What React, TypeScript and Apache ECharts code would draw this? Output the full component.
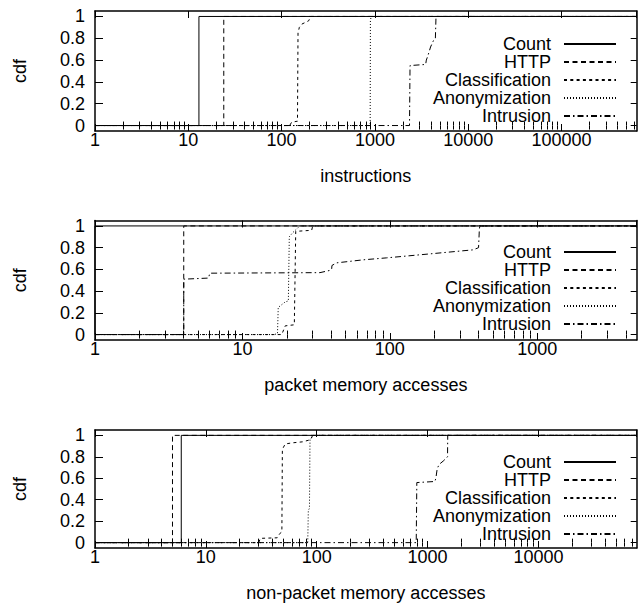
import { useEffect, useRef } from 'react';
import * as echarts from 'echarts';

// Series names, shared by the three panels
const seriesNames = ['Count', 'HTTP', 'Classification', 'Anonymization', 'Intrusion'];
const panelTitles = ['instructions', 'packet memory accesses', 'non-packet memory accesses'];
const xMaxes = [640000, 4730, 77000];
const yTickValues = [0, 0.2, 0.4, 0.6, 0.8, 1];

// Panel 1: instructions per packet (x, cdf)
const instrCount = [[1, 0], [13, 0], [13, 1], [640000, 1]];
const instrHttp = [[1, 0], [24, 0], [24, 1], [640000, 1]];
const instrClassification = [[1, 0], [122, 0], [128, 0.03], [148, 0.04], [150, 0.85], [155, 0.9], [165, 0.93], [195, 0.96], [205, 1], [640000, 1]];
const instrAnonymization = [[1, 0], [870, 0], [890, 0.02], [895, 0.96], [912, 1], [640000, 1]];
const instrIntrusion = [[1, 0], [2350, 0], [2380, 0.55], [3500, 0.56], [3560, 0.6], [3700, 0.64], [3950, 0.72], [4250, 0.78], [4450, 0.8], [4520, 1], [640000, 1]];

// Panel 2: packet memory accesses
const pktCount = [[1, 0], [1, 1], [4730, 1]];
const pktHttp = [[1, 0], [4, 0], [4, 1], [4730, 1]];
const pktClassification = [[1, 0], [18.5, 0], [19.5, 0.08], [22.5, 0.09], [23, 0.95], [29.5, 0.96], [30, 1], [4730, 1]];
const pktAnonymization = [[1, 0], [16.5, 0], [17.3, 0.01], [17.5, 0.25], [19.5, 0.3], [20.5, 0.31], [20.8, 0.9], [22, 0.94], [23.3, 0.97], [24.5, 1], [4730, 1]];
const pktIntrusion = [[1, 0], [4, 0], [4, 0.51], [5.9, 0.52], [6, 0.565], [33.6, 0.57], [39, 0.59], [40.3, 0.6], [40.5, 0.636], [43.5, 0.66], [66, 0.688], [95, 0.706], [188, 0.743], [368, 0.78], [400, 0.8], [405, 0.97], [408, 1], [4730, 1]];

// Panel 3: non-packet memory accesses
const npCount = [[1, 0], [6, 0], [6, 1], [77000, 1]];
const npHttp = [[1, 0], [5, 0], [5, 1], [77000, 1]];
const npClassification = [[1, 0], [30, 0], [31, 0.04], [44, 0.045], [46, 0.08], [48.5, 0.1], [49, 0.87], [52, 0.92], [60, 0.93], [75, 0.94], [88, 0.96], [92, 1], [77000, 1]];
const npAnonymization = [[1, 0], [83, 0], [84, 0.3], [86, 0.32], [87, 0.96], [90, 0.98], [93, 1], [77000, 1]];
const npIntrusion = [[1, 0], [790, 0], [800, 0.56], [1163, 0.57], [1188, 0.6], [1222, 0.69], [1274, 0.73], [1383, 0.76], [1483, 0.79], [1514, 0.8], [1520, 1], [77000, 1]];

const panelSeries = [
  [instrCount, instrHttp, instrClassification, instrAnonymization, instrIntrusion],
  [pktCount, pktHttp, pktClassification, pktAnonymization, pktIntrusion],
  [npCount, npHttp, npClassification, npAnonymization, npIntrusion],
];

const lineTypes: any[] = ['solid', [5, 3.5], [3, 3.3], [1, 2], [6, 3, 1.5, 3]];

const gridBoxes = [
  { top: 11, height: 120 },
  { top: 220.5, height: 119.5 },
  { top: 430, height: 119 },
];
const legendTops = [35, 243, 453];

const FONT = "'Liberation Sans', Arial, Helvetica, sans-serif";
const FONT_SIZE = 18;
const INK = '#000';

// 2..9 times each power of ten, below the axis maximum
function minorTicks(max: number): number[] {
  const out: number[] = [];
  for (let p = 1; p < max; p *= 10) {
    for (let m = 2; m <= 9; m++) {
      if (m * p < max) out.push(m * p);
    }
  }
  return out;
}

function buildOption() {
  const grid: any[] = [];
  const xAxis: any[] = [];
  const yAxis: any[] = [];
  const series: any[] = [];
  const legend: any[] = [];
  const textStyle = { color: INK, fontSize: FONT_SIZE, fontFamily: FONT };

  gridBoxes.forEach((box, g) => {
    grid.push({ left: 95, right: 3.3, top: box.top, height: box.height, containLabel: false });
    const max = xMaxes[g];
    const minors = minorTicks(max);
    const baseX = {
      type: 'log',
      logBase: 10,
      gridIndex: g,
      min: 1,
      max,
      splitLine: { show: false },
      axisLine: { show: false, lineStyle: { color: INK, width: 1.5 } },
      axisLabel: { show: false },
      axisTick: { show: false },
    };
    // bottom, major ticks with labels
    xAxis.push({
      ...baseX,
      position: 'bottom',
      axisLine: { show: true, onZero: false, lineStyle: { color: INK, width: 1.5 } },
      axisTick: { show: true, inside: true, length: 7, lineStyle: { color: INK, width: 1 } },
      axisLabel: {
        show: true,
        showMaxLabel: false,
        margin: 0,
        ...textStyle,
        formatter: (v: number) => String(Math.round(v)),
      },
      name: panelTitles[g],
      nameLocation: 'middle',
      nameGap: 36,
      nameTextStyle: textStyle,
    });
    // bottom, minor ticks
    xAxis.push({
      ...baseX,
      position: 'bottom',
      axisTick: { show: true, inside: true, length: 4, customValues: minors, lineStyle: { color: INK, width: 1 } },
    });
    // top border, major ticks
    xAxis.push({
      ...baseX,
      position: 'top',
      axisLine: { show: true, onZero: false, lineStyle: { color: INK, width: 1.5 } },
      axisTick: { show: true, inside: true, length: 7, lineStyle: { color: INK, width: 1 } },
    });
    // top border, minor ticks
    xAxis.push({
      ...baseX,
      position: 'top',
      axisTick: { show: true, inside: true, length: 4, customValues: minors, lineStyle: { color: INK, width: 1 } },
    });

    const baseY = {
      type: 'value',
      gridIndex: g,
      min: -0.05,
      max: 1.05,
      splitLine: { show: false },
    };
    yAxis.push({
      ...baseY,
      position: 'left',
      axisLine: { show: true, onZero: false, lineStyle: { color: INK, width: 1.5 } },
      axisTick: { show: true, inside: true, length: 8, customValues: yTickValues, lineStyle: { color: INK, width: 1 } },
      axisLabel: {
        show: true,
        customValues: yTickValues,
        margin: 10,
        ...textStyle,
        formatter: (v: number) => String(Math.round(v * 10) / 10),
      },
      name: 'cdf',
      nameLocation: 'middle',
      nameGap: 66,
      nameTextStyle: textStyle,
    });
    yAxis.push({
      ...baseY,
      position: 'right',
      axisLine: { show: true, onZero: false, lineStyle: { color: INK, width: 1.5 } },
      axisTick: { show: true, inside: true, length: 6, customValues: yTickValues, lineStyle: { color: INK, width: 1 } },
      axisLabel: { show: false },
    });

    panelSeries[g].forEach((data, i) => {
      series.push({
        type: 'line',
        name: seriesNames[i],
        xAxisIndex: g * 4,
        yAxisIndex: g * 2,
        data,
        symbol: 'none',
        silent: true,
        lineStyle: { color: INK, width: 1, type: lineTypes[i] },
        itemStyle: { color: INK },
      });
    });

    legend.push({
      data: seriesNames,
      orient: 'vertical',
      align: 'right',
      right: 23,
      top: legendTops[g],
      padding: 0,
      itemWidth: 52,
      itemHeight: 14,
      itemGap: 0,
      selectedMode: false,
      itemStyle: { opacity: 0 },
      textStyle: { ...textStyle, lineHeight: 14, padding: [0, 8, 0, 0] },
    });
  });

  return {
    animation: false,
    backgroundColor: '#fff',
    grid,
    xAxis,
    yAxis,
    legend,
    series,
  };
}

export default function App() {
  const ref = useRef<HTMLDivElement>(null);
  useEffect(() => {
    document.body.style.margin = '0';
    if (!ref.current) return;
    const chart = echarts.init(ref.current, undefined, { renderer: 'svg' });
    chart.setOption(buildOption() as any);
    return () => chart.dispose();
  }, []);
  return <div ref={ref} style={{ width: 640, height: 603 }} />;
}
